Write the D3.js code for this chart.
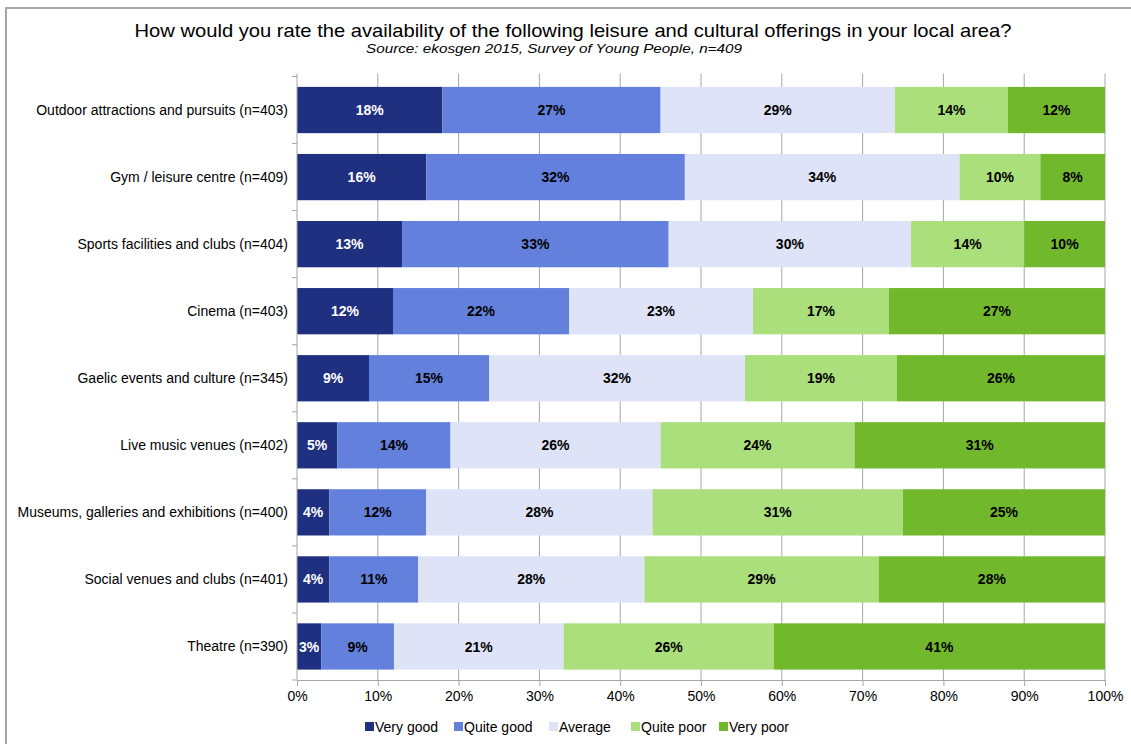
<!DOCTYPE html>
<html>
<head>
<meta charset="utf-8">
<script src="https://cdn.jsdelivr.net/npm/d3@7"></script>
<style>
  html, body { margin: 0; padding: 0; background: #fff; }
  svg { display: block; font-family: "Liberation Sans", Arial, sans-serif; }
</style>
</head>
<body>
<svg id="chart" width="1131" height="744"></svg>
<script>
// Leisure and cultural offerings, rated by young people (percent of respondents)
const categories = [
  "Outdoor attractions and pursuits (n=403)",
  "Gym / leisure centre (n=409)",
  "Sports facilities and clubs (n=404)",
  "Cinema (n=403)",
  "Gaelic events and culture (n=345)",
  "Live music venues (n=402)",
  "Museums, galleries and exhibitions (n=400)",
  "Social venues and clubs (n=401)",
  "Theatre (n=390)"
];
const seriesNames = ["Very good", "Quite good", "Average", "Quite poor", "Very poor"];
const veryGood  = [18, 16, 13, 12, 9, 5, 4, 4, 3];
const quiteGood = [27, 32, 33, 22, 15, 14, 12, 11, 9];
const average   = [29, 34, 30, 23, 32, 26, 28, 28, 21];
const quitePoor = [14, 10, 14, 17, 19, 24, 31, 29, 26];
const veryPoor  = [12, 8, 10, 27, 26, 31, 25, 28, 41];
const xTicks = [0, 0.1, 0.2, 0.3, 0.4, 0.5, 0.6, 0.7, 0.8, 0.9, 1];

const seriesValues = [veryGood, quiteGood, average, quitePoor, veryPoor];
const colors = ["#1f3080", "#6381dc", "#dee3f7", "#abdf7c", "#72b82c"];
const labelColors = ["#ffffff", "#000000", "#000000", "#000000", "#000000"];

const rows = categories.map((c, i) => {
  const r = { category: c };
  seriesNames.forEach((s, j) => { r[s] = seriesValues[j][i]; });
  return r;
});

const svg = d3.select("#chart");
const W = 1131, H = 744;
const margin = { left: 297, right: 26, top: 76.5, bottom: 64 };
const innerW = W - margin.left - margin.right;
const innerH = H - margin.top - margin.bottom;
const FONT = "Liberation Sans, Arial, sans-serif";

// Outer frame
svg.append("path")
  .attr("d", `M6,${H} L6,8 L${W},8`)
  .attr("fill", "none")
  .attr("stroke", "#a6a6a6")
  .attr("stroke-width", 2);

// Title
svg.append("text")
  .attr("x", 573).attr("y", 37)
  .attr("text-anchor", "middle")
  .attr("font-size", 18.5)
  .attr("textLength", 877)
  .attr("lengthAdjust", "spacingAndGlyphs")
  .attr("fill", "#000")
  .text("How would you rate the availability of the following leisure and cultural offerings in your local area?");
svg.append("text")
  .attr("x", 554).attr("y", 53)
  .attr("text-anchor", "middle")
  .attr("font-size", 13.5)
  .attr("textLength", 376)
  .attr("lengthAdjust", "spacingAndGlyphs")
  .attr("font-style", "italic")
  .attr("fill", "#000")
  .text("Source: ekosgen 2015, Survey of Young People, n=409");

const g = svg.append("g").attr("transform", `translate(${margin.left},${margin.top})`);

const x = d3.scaleLinear().domain([0, 1]).range([0, innerW]);
const y = d3.scaleBand().domain(categories).range([0, innerH]).paddingInner(0.31).paddingOuter(0.155);

// Vertical gridlines
g.append("g")
  .selectAll("line")
  .data(xTicks.slice(1))
  .join("line")
  .attr("x1", d => x(d)).attr("x2", d => x(d))
  .attr("y1", -3).attr("y2", innerH)
  .attr("stroke", "#a6a6a6")
  .attr("stroke-width", 1);

// Stacked bars normalised to 100%
const stack = d3.stack().keys(seriesNames).offset(d3.stackOffsetExpand);
const stacked = stack(rows);

const layers = g.append("g")
  .selectAll("g")
  .data(stacked)
  .join("g")
  .attr("fill", (d, i) => colors[i]);

layers.selectAll("rect")
  .data(d => d)
  .join("rect")
  .attr("x", d => x(d[0]))
  .attr("y", d => y(d.data.category))
  .attr("width", d => x(d[1]) - x(d[0]))
  .attr("height", y.bandwidth());

// Segment value labels
layers.each(function (layer, i) {
  d3.select(this).selectAll("text")
    .data(layer)
    .join("text")
    .attr("x", d => (x(d[0]) + x(d[1])) / 2)
    .attr("y", d => y(d.data.category) + y.bandwidth() / 2)
    .attr("dy", "0.36em")
    .attr("text-anchor", "middle")
    .attr("font-size", 14)
    .attr("font-weight", "bold")
    .attr("fill", labelColors[i])
    .text(d => d.data[layer.key] + "%");
});

// Y axis
const yAxis = d3.axisLeft(y).tickSize(0).tickPadding(9);
const yg = g.append("g").call(yAxis);
yg.select(".domain").attr("stroke", "#a6a6a6").attr("d", `M0,-3V${innerH}`);
yg.selectAll("text").attr("font-size", 14).attr("fill", "#000").attr("font-family", FONT);
// band-boundary tick marks
const step = y.step();
g.append("g")
  .selectAll("line")
  .data(d3.range(categories.length + 1))
  .join("line")
  .attr("x1", -5).attr("x2", 0)
  .attr("y1", i => i * step).attr("y2", i => i * step)
  .attr("stroke", "#a6a6a6");

// X axis
const xAxis = d3.axisBottom(x).tickValues(xTicks).tickFormat(d3.format(".0%")).tickSize(6).tickSizeOuter(0).tickPadding(5);
const xg = g.append("g").attr("transform", `translate(0,${innerH})`).call(xAxis);
xg.select(".domain").attr("stroke", "#a6a6a6");
xg.selectAll(".tick line").attr("stroke", "#a6a6a6");
xg.selectAll("text").attr("font-size", 14).attr("fill", "#000").attr("font-family", FONT);

// Legend
const legendX = [365, 454, 549, 631, 719];
const legend = svg.append("g")
  .selectAll("g")
  .data(seriesNames)
  .join("g")
  .attr("transform", (d, i) => `translate(${legendX[i]},727)`);
legend.append("rect")
  .attr("x", 0).attr("y", -5)
  .attr("width", 9).attr("height", 9)
  .attr("fill", (d, i) => colors[i]);
legend.append("text")
  .attr("x", 10).attr("y", 0)
  .attr("dy", "0.36em")
  .attr("font-size", 14)
  .attr("fill", "#000")
  .text(d => d);
</script>
</body>
</html>
